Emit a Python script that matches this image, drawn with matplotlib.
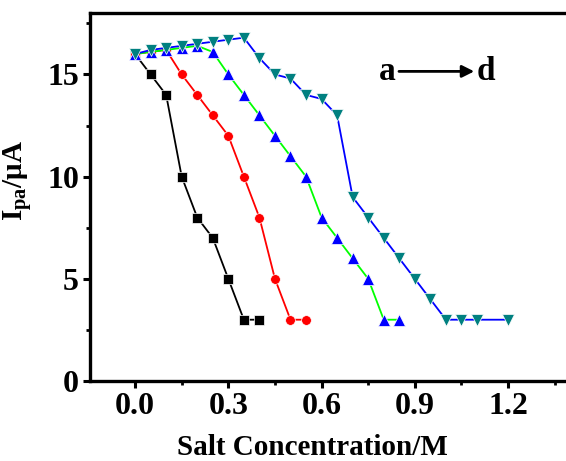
import matplotlib
matplotlib.use('Agg')
import matplotlib.pyplot as plt
from matplotlib.ticker import MultipleLocator

plt.rcParams['font.family'] = 'Liberation Serif'
plt.rcParams['font.weight'] = 'bold'
plt.rcParams['mathtext.fontset'] = 'custom'
plt.rcParams['mathtext.rm'] = 'Liberation Serif:bold'
plt.rcParams['mathtext.it'] = 'Liberation Serif:italic:bold'
plt.rcParams['mathtext.bf'] = 'Liberation Serif:bold'

# curve a
a_x = [0, 0.05, 0.1, 0.15, 0.2, 0.25, 0.3, 0.35, 0.4]
a_y = [16, 15, 14, 10, 8, 7, 5, 3, 3]
# curve b
b_x = [0, 0.05, 0.1, 0.15, 0.2, 0.25, 0.3, 0.35, 0.4, 0.45, 0.5, 0.55]
b_y = [16, 16.1, 16.2, 15, 14, 13, 12, 10, 8, 5, 3, 3]
# curve c
c_x = [0, 0.05, 0.1, 0.15, 0.2, 0.25, 0.3, 0.35, 0.4, 0.45, 0.5, 0.55,
       0.6, 0.65, 0.7, 0.75, 0.8, 0.85]
c_y = [16, 16.1, 16.2, 16.3, 16.4, 16.1, 15, 14, 13, 12, 11, 10,
       8, 7, 6, 5, 3, 3]
# curve d
d_x = [0, 0.05, 0.1, 0.15, 0.2, 0.25, 0.3, 0.35, 0.4, 0.45, 0.5, 0.55,
       0.6, 0.65, 0.7, 0.75, 0.8, 0.85, 0.9, 0.95, 1.0, 1.05, 1.1, 1.2]
d_y = [16, 16.2, 16.3, 16.4, 16.5, 16.6, 16.7, 16.8, 15.8, 15.0, 14.8, 14.0,
       13.8, 13.0, 9.0, 8.0, 7.0, 6.0, 5.0, 4.0, 3.0, 3.0, 3.0, 3.0]

fig = plt.figure(figsize=(5.66, 4.61), dpi=100)
ax = fig.add_axes([0.159, 0.1735, 0.876, 0.798])

# thin white marker edges leave a small gap between line and symbol
ax.plot(a_x, a_y, '-s', color='black', lw=1.3, ms=6.5, mec='white', mew=0.5)
ax.plot(b_x, b_y, '-o', color='#ff0000', lw=1.3, ms=7, mec='white', mew=0.5)
ax.plot(c_x, c_y, '-^', color='#00ff00', mfc='#0000ff', mec='white', mew=0.5, lw=1.3, ms=8.5)
ax.plot(d_x, d_y, '-v', color='#0000ff', mfc='#008080', mec='white', mew=0.5, lw=1.3, ms=8.5)

ax.annotate('', xy=(1.10, 15.15), xytext=(0.84, 15.15),
            arrowprops=dict(arrowstyle='-|>', lw=2, color='black', mutation_scale=18))
ax.text(0.81, 15.15, 'a', fontsize=24, fontweight='bold', ha='center', va='center')
ax.text(1.13, 15.15, 'd', fontsize=24, fontweight='bold', ha='center', va='center')

ax.set_xlim(-0.145, 1.45)
ax.set_ylim(0, 18)
ax.xaxis.set_major_locator(MultipleLocator(0.3))
ax.xaxis.set_minor_locator(MultipleLocator(0.15))
ax.yaxis.set_major_locator(MultipleLocator(5))
ax.yaxis.set_minor_locator(MultipleLocator(2.5))
ax.set_xticks([0.0, 0.3, 0.6, 0.9, 1.2])
ax.set_xticklabels(['0.0', '0.3', '0.6', '0.9', '1.2'])

for s in ax.spines.values():
    s.set_linewidth(2.4)
ax.tick_params(which='major', direction='out', length=5, width=2.2, labelsize=23, pad=3)
ax.tick_params(which='minor', direction='out', length=3, width=2.0)
ax.tick_params(top=False, right=False, which='both')

ax.set_xlabel('Salt Concentration/M', fontsize=21, fontweight='bold')
ax.set_ylabel(r'I$_{\mathrm{pa}}$/μA', fontsize=21, fontweight='bold')
ax.xaxis.set_label_coords(0.448, -0.143)
ax.yaxis.set_label_coords(-0.112, 0.546)

fig.savefig('out.png', dpi=100)
